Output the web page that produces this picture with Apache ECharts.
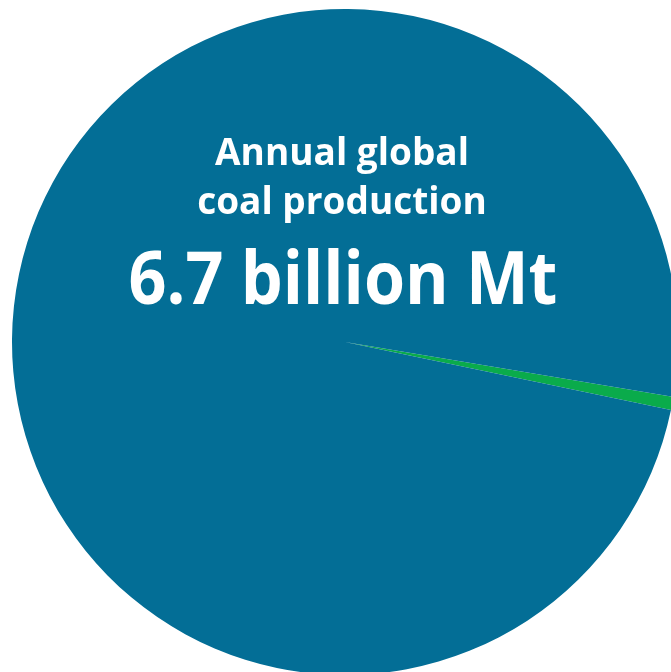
<!DOCTYPE html>
<html>
<head>
<meta charset="utf-8">
<script src="https://cdn.jsdelivr.net/npm/echarts@6/dist/echarts.min.js"></script>
<style>
html,body{margin:0;padding:0;background:#fff;}
#chart{width:671px;height:672px;}
</style>
</head>
<body>
<div id="chart"></div>
<script>
// Data
const categories = ['Other', 'Annual global coal production'];
const values = [0.64, 99.36];
const colors = ['#0aab4b', '#036e96'];
const titleLines = ['Annual global', 'coal production'];
const bigLabel = '6.7 billion Mt';

const chart = echarts.init(document.getElementById('chart'));
chart.setOption({
  animation: false,
  series: [{
    type: 'pie',
    center: [345, 342],
    radius: [0, 333],
    startAngle: -9.5,
    clockwise: true,
    label: {show: false},
    labelLine: {show: false},
    emphasis: {disabled: true},
    itemStyle: {borderWidth: 0},
    data: categories.map((c, i) => ({name: c, value: values[i], itemStyle: {color: colors[i]}}))
  }],
  graphic: [
    {type: 'text', z: 100, x: 342, y: 154, style: {text: titleLines[0], fill: '#fff', fontFamily: 'Open Sans', fontWeight: 'bold', fontSize: 37, align: 'center', verticalAlign: 'middle'}},
    {type: 'text', z: 100, x: 342, y: 203, style: {text: titleLines[1], fill: '#fff', fontFamily: 'Open Sans', fontWeight: 'bold', fontSize: 37, align: 'center', verticalAlign: 'middle'}},
    {type: 'text', z: 100, x: 343, y: 283, scaleX: 0.91, style: {text: bigLabel, fill: '#fff', fontFamily: 'Open Sans', fontWeight: 'bold', fontSize: 73, align: 'center', verticalAlign: 'middle'}}
  ]
});
</script>
</body>
</html>
